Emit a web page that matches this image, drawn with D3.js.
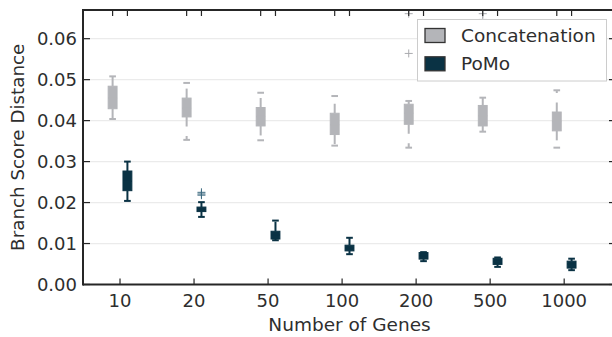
<!DOCTYPE html>
<html>
<head>
<meta charset="utf-8">
<script src="https://cdn.jsdelivr.net/npm/d3@7"></script>
<style>
  body { margin: 0; background: #fff; }
  text { font-family: "DejaVu Sans", sans-serif; fill: #2e2e2e; }
</style>
</head>
<body>
<svg id="chart" width="612" height="337"></svg>
<script>
// data
const genes = ["10", "20", "50", "100", "200", "500", "1000"];
const yTicks = [0.00, 0.01, 0.02, 0.03, 0.04, 0.05, 0.06];

const concatLow    = [0.0404, 0.0353, 0.0352, 0.0339, 0.0334, 0.0373, 0.0334];
const concatQ1     = [0.0429, 0.0409, 0.0387, 0.0366, 0.0391, 0.0387, 0.0375];
const concatMedian = [0.0455, 0.0430, 0.0410, 0.0390, 0.0418, 0.0412, 0.0398];
const concatQ3     = [0.0484, 0.0455, 0.0432, 0.0418, 0.0440, 0.0437, 0.0421];
const concatHigh   = [0.0508, 0.0492, 0.0468, 0.0460, 0.0448, 0.0456, 0.0474];
const concatOut    = [[], [], [], [], [0.0564, 0.0661], [0.0661, 0.0647], []];

const pomoLow    = [0.0204, 0.0165, 0.0108, 0.0074, 0.0057, 0.0043, 0.0035];
const pomoQ1     = [0.0229, 0.0178, 0.0111, 0.0082, 0.0062, 0.0049, 0.0040];
const pomoMedian = [0.0252, 0.0184, 0.0121, 0.0089, 0.0070, 0.0056, 0.0050];
const pomoQ3     = [0.0277, 0.0189, 0.0130, 0.0096, 0.0078, 0.0064, 0.0057];
const pomoHigh   = [0.0300, 0.0201, 0.0156, 0.0114, 0.0079, 0.0066, 0.0063];
const pomoOut    = [[], [0.0225, 0.0218, 0.0221], [], [], [], [], []];

const series = [
  {name: "Concatenation", color: "#b4b5b9", shift: -0.1, low: concatLow, q1: concatQ1, med: concatMedian, q3: concatQ3, high: concatHigh, out: concatOut, flier: "#a9aaae"},
  {name: "PoMo", color: "#0a3244", shift: 0.1, low: pomoLow, q1: pomoQ1, med: pomoMedian, q3: pomoQ3, high: pomoHigh, out: pomoOut, flier: "#3f6b80"}
];

const plotL = 83, plotR = 616, plotT = 10, plotB = 284.5;
const svg = d3.select("#chart");

const x = d3.scaleLinear().domain([-0.5, 6.7]).range([plotL, plotR]);
const y = d3.scaleLinear().domain([0, 0.067]).range([plotB, plotT]);
const boxW = x(0.12) - x(0);
const capW = x(0.09) - x(0);

// grid
svg.append("g").selectAll("line")
  .data(yTicks.slice(1))
  .enter().append("line")
  .attr("x1", plotL).attr("x2", plotR)
  .attr("y1", d => y(d)).attr("y2", d => y(d))
  .attr("stroke", "#ebebeb").attr("stroke-width", 1.2);

// boxes
series.forEach(s => {
  const g = svg.append("g");
  const idx = d3.range(genes.length);
  const cx = i => x(i + s.shift);

  // whiskers (dashed, starting at the box)
  g.selectAll("line.wup").data(idx).enter().append("line")
    .attr("x1", cx).attr("x2", cx)
    .attr("y1", i => y(s.q3[i])).attr("y2", i => y(s.high[i]))
    .attr("stroke", s.color).attr("stroke-width", 2)
    .attr("stroke-dasharray", "9.5,9.5");
  g.selectAll("line.wlo").data(idx).enter().append("line")
    .attr("x1", cx).attr("x2", cx)
    .attr("y1", i => y(s.q1[i])).attr("y2", i => y(s.low[i]))
    .attr("stroke", s.color).attr("stroke-width", 2)
    .attr("stroke-dasharray", "9.5,9.5");

  // caps
  ["high", "low"].forEach(k => {
    g.selectAll("line.cap" + k).data(idx).enter().append("line")
      .attr("x1", i => cx(i) - capW / 2).attr("x2", i => cx(i) + capW / 2)
      .attr("y1", i => y(s[k][i])).attr("y2", i => y(s[k][i]))
      .attr("stroke", s.color).attr("stroke-width", 2);
  });

  g.selectAll("rect").data(idx).enter().append("rect")
    .attr("x", i => cx(i) - boxW / 2)
    .attr("y", i => y(s.q3[i]))
    .attr("width", boxW)
    .attr("height", i => y(s.q1[i]) - y(s.q3[i]))
    .attr("fill", s.color).attr("stroke", s.color).attr("stroke-width", 1);

  g.selectAll("line.med").data(idx).enter().append("line")
    .attr("x1", i => cx(i) - boxW / 2).attr("x2", i => cx(i) + boxW / 2)
    .attr("y1", i => y(s.med[i])).attr("y2", i => y(s.med[i]))
    .attr("stroke", s.color).attr("stroke-width", 1.5);

  // outliers as "+"
  const pts = [];
  s.out.forEach((arr, i) => arr.forEach(v => pts.push({i: i, v: v})));
  const fl = g.selectAll("g.flier").data(pts).enter().append("g")
    .attr("transform", d => `translate(${cx(d.i)},${y(d.v)})`);
  fl.append("line").attr("x1", -4).attr("x2", 4).attr("y1", 0).attr("y2", 0)
    .attr("stroke", s.flier).attr("stroke-width", 1);
  fl.append("line").attr("x1", 0).attr("x2", 0).attr("y1", -4).attr("y2", 4)
    .attr("stroke", s.flier).attr("stroke-width", 1);
});

// spines
const spine = "#262626";
svg.append("line").attr("x1", plotL).attr("x2", plotR).attr("y1", plotT).attr("y2", plotT)
  .attr("stroke", spine).attr("stroke-width", 2);
svg.append("line").attr("x1", plotL).attr("x2", plotR).attr("y1", plotB).attr("y2", plotB)
  .attr("stroke", spine).attr("stroke-width", 2);
svg.append("line").attr("x1", plotL).attr("x2", plotL).attr("y1", plotT - 1).attr("y2", plotB + 1)
  .attr("stroke", spine).attr("stroke-width", 2);
svg.append("line").attr("x1", plotR).attr("x2", plotR).attr("y1", plotT - 1).attr("y2", plotB + 1)
  .attr("stroke", spine).attr("stroke-width", 2);

// y ticks (inward, both sides)
const yt = svg.append("g");
yt.selectAll("line.l").data(yTicks).enter().append("line")
  .attr("x1", plotL).attr("x2", plotL + 7)
  .attr("y1", d => y(d)).attr("y2", d => y(d))
  .attr("stroke", spine).attr("stroke-width", 1.2);
yt.selectAll("line.r").data(yTicks).enter().append("line")
  .attr("x1", plotR - 7).attr("x2", plotR)
  .attr("y1", d => y(d)).attr("y2", d => y(d))
  .attr("stroke", spine).attr("stroke-width", 1.2);
yt.selectAll("text").data(yTicks).enter().append("text")
  .attr("x", plotL - 6).attr("y", d => y(d)).attr("dy", "0.36em")
  .attr("text-anchor", "end").attr("font-size", 18)
  .text(d => d3.format(".2f")(d));

// x ticks: bottom at categories, top at each box position
const xt = svg.append("g");
xt.selectAll("line.b").data(genes).enter().append("line")
  .attr("x1", (d, i) => x(i)).attr("x2", (d, i) => x(i))
  .attr("y1", plotB).attr("y2", plotB - 6)
  .attr("stroke", spine).attr("stroke-width", 1.2);
const topPos = [];
genes.forEach((d, i) => series.forEach(s => topPos.push(i + s.shift)));
xt.selectAll("line.t").data(topPos).enter().append("line")
  .attr("x1", d => x(d)).attr("x2", d => x(d))
  .attr("y1", plotT).attr("y2", plotT + 6)
  .attr("stroke", spine).attr("stroke-width", 1.2);
xt.selectAll("text").data(genes).enter().append("text")
  .attr("x", (d, i) => x(i)).attr("y", 306.5)
  .attr("text-anchor", "middle").attr("font-size", 18)
  .text(d => d);

// axis labels
svg.append("text").attr("x", (plotL + plotR) / 2).attr("y", 330.5)
  .attr("text-anchor", "middle").attr("font-size", 18.5)
  .text("Number of Genes");
svg.append("text")
  .attr("transform", `translate(24,${(plotT + plotB) / 2}) rotate(-90)`)
  .attr("text-anchor", "middle").attr("font-size", 18.3)
  .text("Branch Score Distance");

// legend
const lg = svg.append("g");
lg.append("rect").attr("x", 417.5).attr("y", 19.5).attr("width", 189).attr("height", 61.5)
  .attr("fill", "#fff").attr("stroke", "#cccccc").attr("stroke-width", 1);
const items = lg.selectAll("g.item").data(series).enter().append("g")
  .attr("transform", (d, i) => `translate(425,${28.5 + i * 28.3})`);
items.append("rect").attr("width", 20).attr("height", 14)
  .attr("fill", d => d.color).attr("stroke", "#333").attr("stroke-width", 1.3);
items.append("text").attr("x", 36).attr("y", 13.2).attr("font-size", 18.5)
  .text(d => d.name);
</script>
</body>
</html>
